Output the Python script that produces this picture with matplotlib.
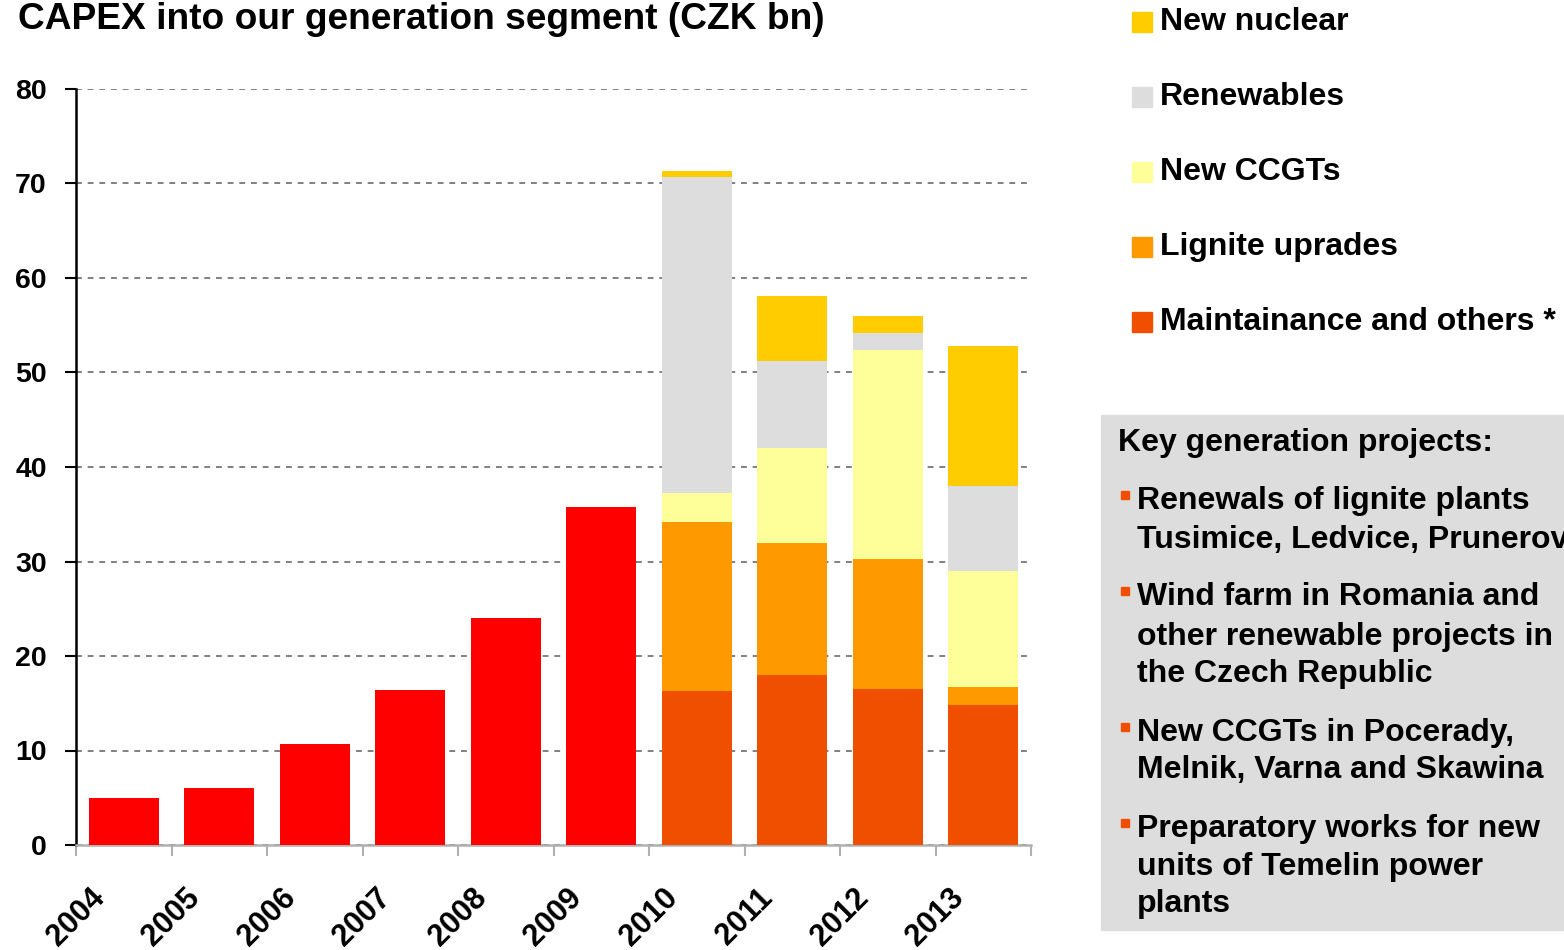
import matplotlib
matplotlib.use("Agg")
import matplotlib.pyplot as plt
import matplotlib.transforms as mtransforms
import numpy as np
from matplotlib.patches import Rectangle

plt.rcParams['font.family'] = ['Liberation Sans', 'DejaVu Sans']
plt.rcParams['font.weight'] = 'bold'

years = ['2004', '2005', '2006', '2007', '2008', '2009', '2010', '2011', '2012', '2013']
historic = [5.0, 6.0, 10.7, 16.4, 24.0, 35.8]
maintenance = [16.3, 18.0, 16.5, 14.8]
lignite = [17.9, 14.0, 13.8, 1.9]
ccgt = [3.0, 10.0, 22.1, 12.3]
renewables = [33.5, 9.2, 1.8, 9.0]
nuclear = [0.6, 6.9, 1.8, 14.8]

series_names = ['New nuclear', 'Renewables', 'New CCGTs', 'Lignite uprades', 'Maintainance and others *']
series_colors = ['#FFCC00', '#DDDDDD', '#FFFF99', '#FF9900', '#F04F00']
hist_color = '#FF0000'

projects_title = 'Key generation projects:'
projects = [
    ['Renewals of lignite plants', 'Tusimice, Ledvice, Prunerov'],
    ['Wind farm in Romania and', 'other renewable projects in', 'the Czech Republic'],
    ['New CCGTs in Pocerady,', 'Melnik, Varna and Skawina'],
    ['Preparatory works for new', 'units of Temelin power', 'plants'],
]

W, H = 1564, 950
fig = plt.figure(figsize=(W / 100, H / 100), dpi=100)
ax = fig.add_axes([76 / W, 1 - 845 / H, (1031 - 76) / W, (845 - 89) / H])

x = np.arange(len(years))
bw = 0.73
ax.bar(x[:len(historic)], historic, width=bw, color=hist_color, zorder=3)

fx = x[len(historic):]
stack = [maintenance, lignite, ccgt, renewables, nuclear]
stack_colors = series_colors[::-1]
bottom = np.zeros(len(fx))
for vals, col in zip(stack, stack_colors):
    ax.bar(fx, vals, width=bw, bottom=bottom, color=col, zorder=3)
    bottom = bottom + np.array(vals)

ax.set_xlim(-0.5, len(years) - 0.5)
ax.set_ylim(0, 80)
ax.set_yticks(np.arange(0, 81, 10))
ax.set_yticklabels([str(v) for v in range(0, 81, 10)], fontsize=20.5, fontweight='bold')
ax.yaxis.grid(True, linestyle=(0, (3, 3)), color='#808080', linewidth=1.4, zorder=0)
ax.set_axisbelow(True)

ax.set_xticks(x)
ax.set_xticklabels(years, rotation=45, ha='right', va='top', fontsize=22, fontweight='bold')
ax.tick_params(axis='x', which='major', length=0, pad=27)
offset = mtransforms.ScaledTranslation(-13 / 100, 0, fig.dpi_scale_trans)
for lab in ax.get_xticklabels():
    lab.set_transform(lab.get_transform() + offset)
ax.set_xticks(np.arange(-0.5, len(years), 1.0), minor=True)
ax.tick_params(axis='x', which='minor', length=8, color='#B0B0B0', width=1.5)
ax.tick_params(axis='y', length=8, width=1.5, color='black', pad=13)

for s in ['top', 'right']:
    ax.spines[s].set_visible(False)
ax.spines['left'].set_color('black')
ax.spines['left'].set_linewidth(1.8)
ax.spines['bottom'].set_color('#B0B0B0')
ax.spines['bottom'].set_linewidth(1.8)

fig.text(18 / W, 1 - 29 / H, 'CAPEX into our generation segment (CZK bn)', fontsize=26.7,
         fontweight='bold', ha='left', va='baseline')

# Legend
leg_y = [22, 97, 172, 247, 322]
for name, col, yy in zip(series_names, series_colors, leg_y):
    fig.patches.append(Rectangle((1132 / W, 1 - (yy + 10) / H), 20 / W, 20 / H,
                                 transform=fig.transFigure, color=col))
    fig.text(1160 / W, 1 - yy / H, name, fontsize=23, fontweight='bold', ha='left', va='center')

# Key projects box
fig.patches.append(Rectangle((1101 / W, 1 - 930 / H), (W - 1101) / W, (930 - 415) / H,
                             transform=fig.transFigure, color='#DDDDDD', zorder=0))
fig.text(1118 / W, 1 - 443 / H, projects_title, fontsize=23, fontweight='bold', ha='left', va='center')
line_ys = [[501, 540], [597, 637, 674], [733, 770], [829, 867, 904]]
for lines, ys in zip(projects, line_ys):
    fig.patches.append(Rectangle((1121 / W, 1 - (ys[0] - 2) / H), 8 / W, 8 / H,
                                 transform=fig.transFigure, color='#F04F00', zorder=1))
    for ln, yy in zip(lines, ys):
        fig.text(1137 / W, 1 - yy / H, ln, fontsize=23, fontweight='bold', ha='left', va='center')

fig.savefig('out.png', dpi=100)
